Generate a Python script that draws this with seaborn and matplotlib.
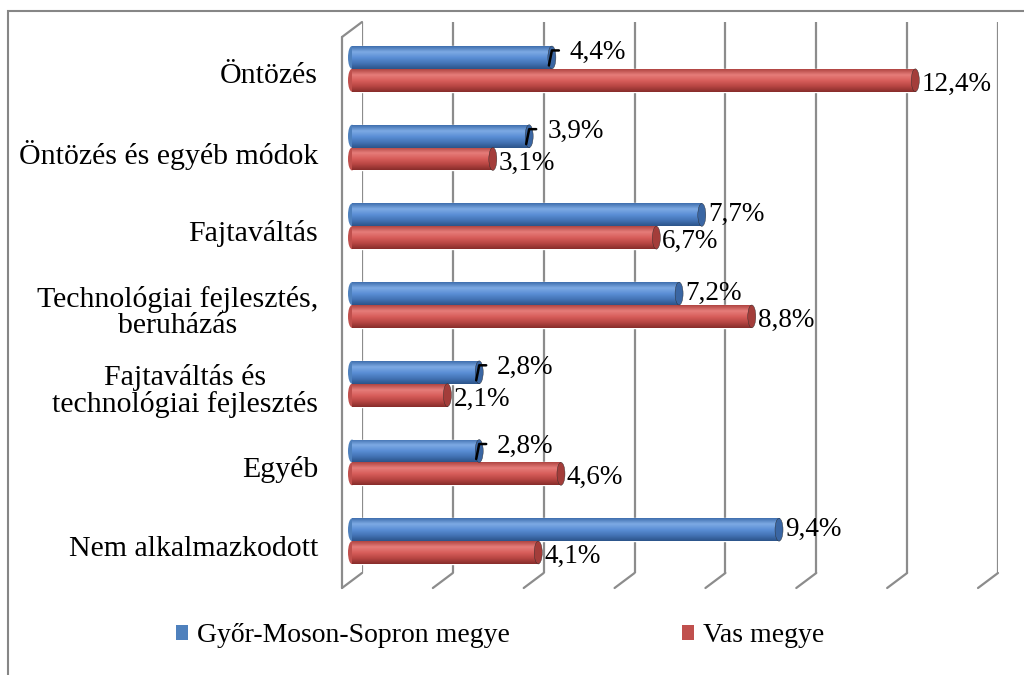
import numpy as np
import pandas as pd
import seaborn as sns
import matplotlib
matplotlib.use('Agg')
import matplotlib.pyplot as plt
from matplotlib import transforms
from matplotlib.patches import Ellipse, Patch, Rectangle
from matplotlib.colors import LinearSegmentedColormap

kategoriak = ['Öntözés', 'Öntözés és egyéb módok', 'Fajtaváltás',
              'Technológiai fejlesztés,\nberuházás',
              'Fajtaváltás és\ntechnológiai fejlesztés', 'Egyéb',
              'Nem alkalmazkodott']
gymos = [4.4, 3.9, 7.7, 7.2, 2.8, 2.8, 9.4]
vas = [12.4, 3.1, 6.7, 8.8, 2.1, 4.6, 4.1]
sorok = ['Győr-Moson-Sopron megye', 'Vas megye']
# which labels get the little leader mark (blue series only)
vezeto = [True, True, False, False, True, True, False]

szinek = ['#4F81BD', '#C0504D']
grad_szinek = [['#3f6fae', '#7eaae4', '#5b8fd6', '#4474b6', '#2c548a'],
               ['#b04542', '#e67d7a', '#d85e5b', '#b84643', '#872d2b']]
sapka = ['#3a66a3', '#a33d3a']

sns.set_theme(style='white')
plt.rcParams['font.family'] = ['Liberation Serif', 'DejaVu Serif']
plt.rcParams['text.color'] = 'black'

W, H = 1024, 675
fig = plt.figure(figsize=(W / 100, H / 100), dpi=100)
ax = fig.add_axes([362 / W, 1 - 573 / H, 636 / W, 551 / H])

df = pd.DataFrame({'kat': kategoriak * 2,
                   'sor': [sorok[0]] * len(gymos) + [sorok[1]] * len(vas),
                   'ert': gymos + vas})
sns.barplot(data=df, x='ert', y='kat', hue='sor', orient='h', width=0.58,
            palette=szinek, saturation=1, errorbar=None, legend=False, ax=ax)

ax.set_xlim(0, 14)
ax.set_ylim(len(kategoriak) - 0.5, -0.5)
ax.set_xticks(np.arange(0, 15, 2))
ax.set_xticklabels([])
ax.set_yticks([])
ax.set_xlabel('')
ax.set_ylabel('')
ax.tick_params(length=0)
sns.despine(ax=ax, left=True, bottom=True)

# pixel -> data factors
sx = 14 / 636
sy = len(kategoriak) / 551
y_top, y_bot = -0.5, len(kategoriak) - 0.5

# back wall grid + floor slants
gc = '#8c8c8c'
for t in ax.get_xticks():
    ax.plot([t, t], [y_top, y_bot], color=gc, lw=1.6, zorder=0.5)
    ax.plot([t, t - 20 * sx], [y_bot, y_bot + 15 * sy], color=gc, lw=1.6,
            zorder=0.5, clip_on=False)
# left wall
ax.plot([-20 * sx, -20 * sx], [y_top + 15 * sy, y_bot + 15 * sy], color=gc,
        lw=1.6, clip_on=False)
ax.plot([0, -20 * sx], [y_top, y_top + 15 * sy], color=gc, lw=1.6,
        clip_on=False)

# bars sit in the middle of the depth
tb = ax.transData + transforms.ScaledTranslation(-10 / 100, -7.5 / 100,
                                                 fig.dpi_scale_trans)
grad = np.linspace(0, 1, 64).reshape(-1, 1)
ertekek = [gymos, vas]
for ci, cont in enumerate(ax.containers):
    cm = LinearSegmentedColormap.from_list('c%d' % ci, grad_szinek[ci])
    for j, bar in enumerate(cont):
        x0, y0 = bar.get_x(), bar.get_y()
        w, h = bar.get_width(), bar.get_height()
        yc = y0 + h / 2
        bar.set_transform(tb)
        bar.set_zorder(2)
        bal = Ellipse((x0, yc), 8 * sx, h, transform=tb, facecolor=szinek[ci],
                      edgecolor='none', zorder=2, clip_on=False)
        ax.add_patch(bal)
        for clip in (bar, bal):
            im = ax.imshow(grad, cmap=cm, extent=[x0 - 4 * sx, x0 + w, y0 + h, y0],
                           aspect='auto', transform=tb, zorder=3,
                           interpolation='bilinear')
            im.set_clip_path(clip)
        ax.add_patch(Ellipse((x0 + w, yc), 8 * sx, h, transform=tb,
                             facecolor=sapka[ci], edgecolor='#2b2b2b',
                             lw=0.3, zorder=4))
        cimke = ('%.1f%%' % ertekek[ci][j]).replace('.', ',')
        if ci == 0 and vezeto[j]:
            ax.plot([x0 + w - 3 * sx, x0 + w, x0 + w + 7 * sx],
                    [yc + 8 * sy, yc - 7 * sy, yc - 7 * sy], color='black',
                    lw=1.8, transform=tb, zorder=5)
            dxy = (18, 5)
        else:
            dxy = (6, 0 if ci == 0 else -4)
        ax.annotate(cimke, (x0 + w, yc), xycoords=tb, xytext=dxy,
                    textcoords='offset pixels', ha='left', va='center',
                    fontsize=19.5, color='black', zorder=5)

ax.set_xlim(0, 14)
ax.set_ylim(y_bot, y_top)

# category labels, aligned with the front of the floor
tl = transforms.blended_transform_factory(ax.transAxes, ax.transData) + \
    transforms.ScaledTranslation(-0.44, -0.15, fig.dpi_scale_trans)
for j, kat in enumerate(kategoriak):
    ax.text(0, j, kat, transform=tl, ha='right', va='center',
            multialignment='center', fontsize=21.5, linespacing=1.0,
            color='black')

handles = [Patch(facecolor=szinek[i], edgecolor='none', label=sorok[i])
           for i in range(len(sorok))]
fig.legend(handles=handles, loc='center', bbox_to_anchor=(500 / W, 1 - 636 / H),
           ncol=2, frameon=False, fontsize=20, handlelength=0.45,
           handleheight=0.45, handletextpad=0.3, columnspacing=6.2,
           labelcolor='black')

fig.add_artist(Rectangle((8 / W, -0.1), 1.2, 1.1 - 11 / H, transform=fig.transFigure,
                         fill=False, edgecolor='#868686', lw=1.5))

fig.savefig('out.png', dpi=100)
